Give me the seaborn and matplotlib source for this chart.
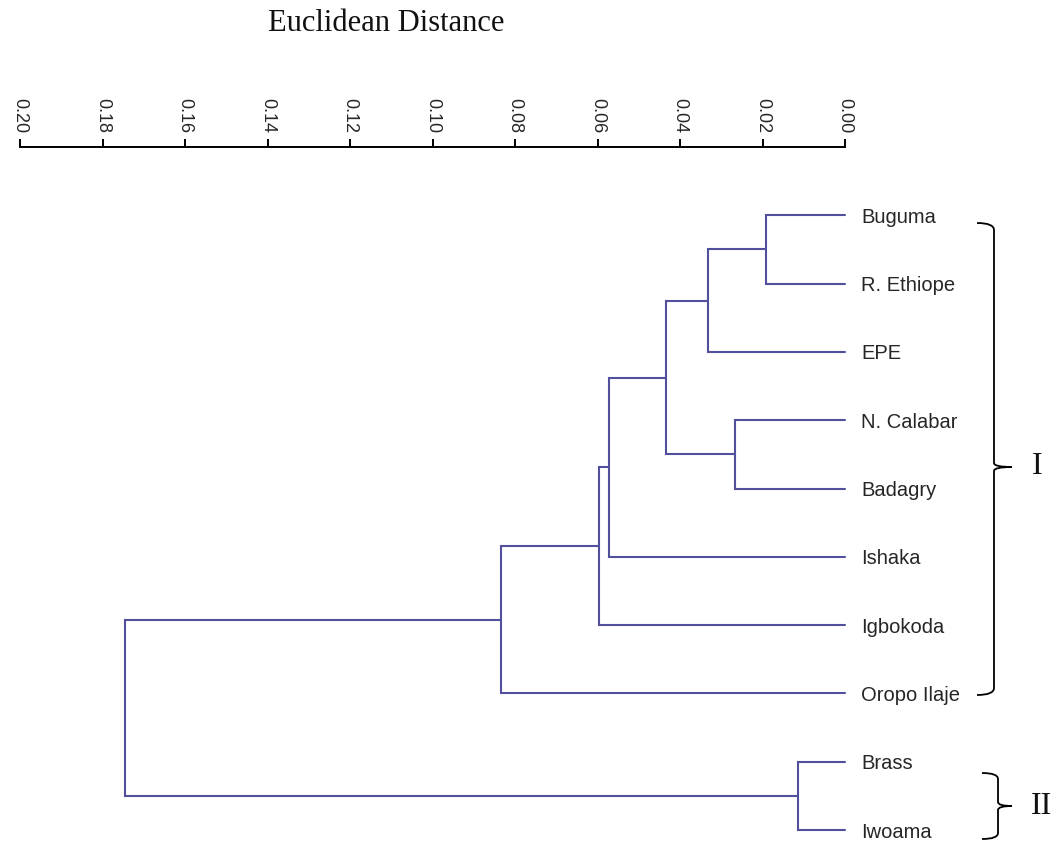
import numpy as np
import pandas as pd
import matplotlib
matplotlib.use("Agg")
import matplotlib.pyplot as plt
from matplotlib.path import Path
from matplotlib.patches import PathPatch
import seaborn as sns

# Sampling sites (leaf order, top to bottom)
sites = ["Buguma", "R. Ethiope", "EPE", "N. Calabar", "Badagry",
         "Ishaka", "Igbokoda", "Oropo Ilaje", "Brass", "Iwoama"]

# Agglomeration steps: clusters joined (ids >= 10 are earlier merges) and distance
merge_left = [0, 8, 3, 10, 13, 14, 15, 16, 17]
merge_right = [1, 9, 4, 2, 12, 5, 6, 7, 11]
merge_height = [0.0192, 0.0114, 0.0267, 0.0332, 0.0434, 0.0572, 0.0596, 0.0834, 0.1745]

distance_ticks = [0.00, 0.02, 0.04, 0.06, 0.08, 0.10, 0.12, 0.14, 0.16, 0.18, 0.20]

# Cluster groups annotated on the right
group_names = ["I", "II"]

LINE_COLOR = "#50509c"
TEXT_COLOR = "#262626"

# ---- build dendrogram link coordinates --------------------------------------
n = len(sites)
pos = {i: 5.0 + 10.0 * i for i in range(n)}
height = {i: 0.0 for i in range(n)}
rows = []
for k, (a, b, h) in enumerate(zip(merge_left, merge_right, merge_height)):
    cid = n + k
    pts = [(height[a], pos[a]), (h, pos[a]), (h, pos[b]), (height[b], pos[b])]
    for order, (d, p) in enumerate(pts):
        rows.append({"link": k, "order": order, "dist": d, "pos": p})
    pos[cid] = (pos[a] + pos[b]) / 2.0
    height[cid] = h
links = pd.DataFrame(rows)

# ---- figure ----------------------------------------------------------------
sns.set_style("white")
plt.rcParams["font.family"] = ["Liberation Sans", "DejaVu Sans"]

W, H = 1056, 843
fig = plt.figure(figsize=(W / 100, H / 100), dpi=100)
ax = fig.add_axes([20 / W, 0.0, 825 / W, 1 - 147 / H])

sns.lineplot(data=links, x="dist", y="pos", units="link", estimator=None,
             sort=False, color=LINE_COLOR, lw=1.5, legend=False, ax=ax)
for ln in ax.lines:
    ln.set_clip_on(False)
    ln.set_solid_joinstyle("miter")

ax.set_xlim(0.20, 0.0)
ax.set_ylim(96.9, -5.0)
ax.set_xlabel("")
ax.set_ylabel("")

# distance axis on top
ax.xaxis.tick_top()
ax.set_xticks(distance_ticks)
ax.set_xticklabels([f"{t:.2f}" for t in distance_ticks], rotation=270,
                   fontsize=13, color=TEXT_COLOR)
ax.tick_params(axis="x", which="both", top=True, bottom=False, direction="out",
               length=5.8, width=1.4, color="black", pad=4)

# site names beside the leaves
ax.yaxis.tick_right()
ax.set_yticks([pos[i] for i in range(n)])
ax.set_yticklabels(sites, fontsize=14.5, color=TEXT_COLOR)
for lab in ax.get_yticklabels():
    lab.set_verticalalignment("center_baseline")
ax.tick_params(axis="y", length=0, pad=11.5)

for side in ["left", "right", "bottom"]:
    ax.spines[side].set_visible(False)
ax.spines["top"].set_color("black")
ax.spines["top"].set_linewidth(1.4)

# title
fig.text(268 / W, 1 - 31 / H, "Euclidean Distance", ha="left", va="baseline",
         fontsize=22, family=["Liberation Serif", "DejaVu Serif"], color="#111111")


# ---- curly braces for the groups --------------------------------------------
def fx(x):
    return x / W


def fy(y):
    return 1 - y / H


def brace(x_back, x_spine, x_tip, y_top, y_mid, y_bot, r=7, rt=4):
    verts = [
        (x_back, y_top), (x_spine, y_top), (x_spine, y_top + r),
        (x_spine, y_mid - rt), (x_spine, y_mid), (x_tip, y_mid),
        (x_spine, y_mid), (x_spine, y_mid + rt),
        (x_spine, y_bot - r), (x_spine, y_bot), (x_back, y_bot),
    ]
    codes = [Path.MOVETO, Path.CURVE3, Path.CURVE3,
             Path.LINETO, Path.CURVE3, Path.CURVE3,
             Path.CURVE3, Path.CURVE3,
             Path.LINETO, Path.CURVE3, Path.CURVE3]
    verts = [(fx(x), fy(y)) for x, y in verts]
    patch = PathPatch(Path(verts, codes), fill=False, lw=1.3, ec="black",
                      transform=fig.transFigure)
    fig.patches.append(patch)


brace(977, 994, 1012, 223, 467, 695)
brace(982, 998, 1012, 773, 806, 839, r=6)

fig.text(fx(1037), fy(467), group_names[0], ha="center", va="center",
         fontsize=23, family=["Liberation Serif", "DejaVu Serif"], color="#111111")
fig.text(fx(1041), fy(806), group_names[1], ha="center", va="center",
         fontsize=23, family=["Liberation Serif", "DejaVu Serif"], color="#111111")

fig.savefig("out.png", dpi=100, facecolor="white")
